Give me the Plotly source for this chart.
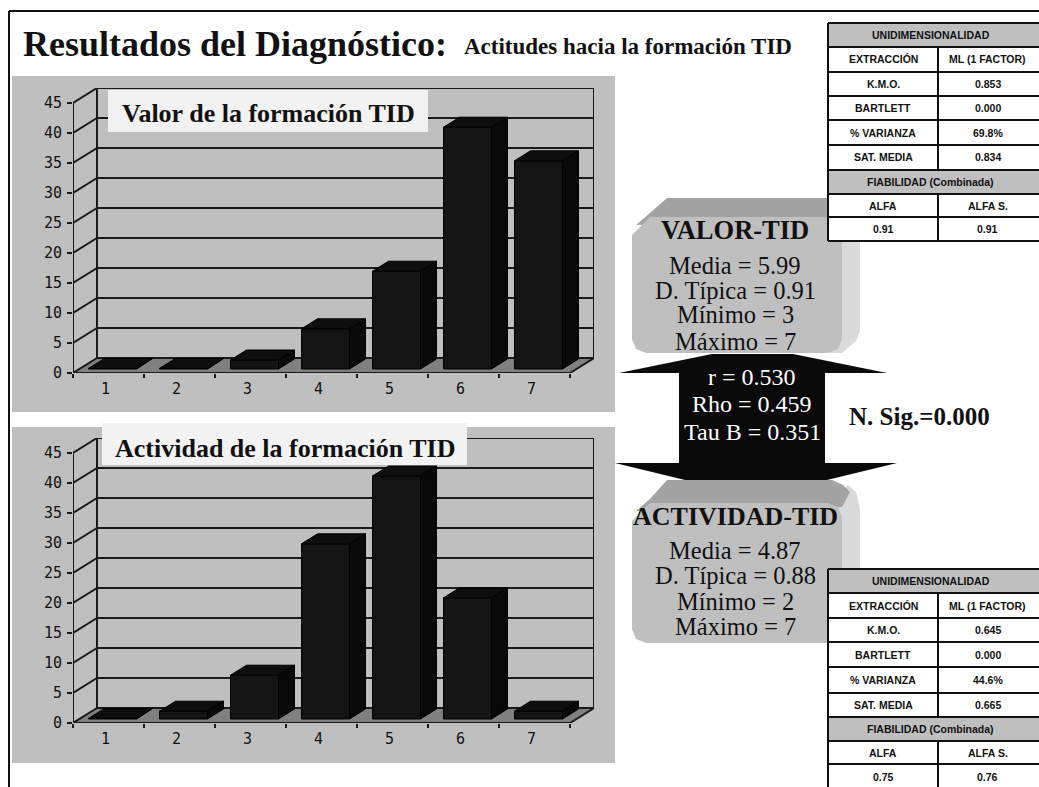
import plotly.graph_objects as go

W, H = 1039, 787

# ---- data ----
categories = [1, 2, 3, 4, 5, 6, 7]
valor_values = [0.1, 0.1, 1.5, 6.7, 16.3, 40.3, 34.7]
actividad_values = [0.1, 1.3, 7.3, 29.2, 40.5, 20.2, 1.3]
y_ticks = [0, 5, 10, 15, 20, 25, 30, 35, 40, 45]

chart_titles = ["Valor de la formación TID", "Actividad de la formación TID"]
main_title = "Resultados del Diagnóstico:"
sub_title = "Actitudes hacia la formación TID"

valor_stats = ["Media = 5.99", "D. Típica = 0.91", "Mínimo = 3", "Máximo = 7"]
actividad_stats = ["Media = 4.87", "D. Típica = 0.88", "Mínimo = 2", "Máximo = 7"]
corr_stats = ["r = 0.530", "Rho = 0.459", "Tau B = 0.351"]
sig_text = "N. Sig.=0.000"

table_left_col = ["K.M.O.", "BARTLETT", "% VARIANZA", "SAT. MEDIA"]
table1_right = ["0.853", "0.000", "69.8%", "0.834"]
table2_right = ["0.645", "0.000", "44.6%", "0.665"]
table1_alpha = ["0.91", "0.91"]
table2_alpha = ["0.75", "0.76"]

# ---- geometry helpers ----
def fx(p):
    return p / W

def fy(p):
    return 1 - p / H

CAT_PX, VAL_PX = 71.0, 6.0
DEPTH_X, DEPTH_Y = 24 / CAT_PX, 15 / VAL_PX
BAR_W = 48 / CAT_PX
BAR_OFF_X, BAR_OFF_Y = 4 / CAT_PX, 4 / VAL_PX
BAR_DX, BAR_DY = 16 / CAT_PX, 10 / VAL_PX
PANEL = "#bfbfbf"
INK = "#1a1a1a"

shapes, annotations = [], []

def rect(x0, y0, x1, y1, fill, line=None, lw=0):
    shapes.append(dict(type="rect", xref="paper", yref="paper", x0=fx(x0), x1=fx(x1), y0=fy(y0), y1=fy(y1),
                       fillcolor=fill, line=dict(color=line or fill, width=lw), layer="below"))

def line(x0, y0, x1, y1, color="#111111", lw=2):
    shapes.append(dict(type="line", xref="paper", yref="paper", x0=fx(x0), x1=fx(x1), y0=fy(y0), y1=fy(y1),
                       line=dict(color=color, width=lw), layer="below"))

def poly(points, fill, layer="below"):
    d = "M " + " L ".join(f"{fx(x):.5f},{fy(y):.5f}" for x, y in points) + " Z"
    shapes.append(dict(type="path", xref="paper", yref="paper", path=d, fillcolor=fill, line=dict(width=0), layer=layer))

def label(x, y, text, size, color="#111111", family="Liberation Serif", bold=False, anchor="center"):
    annotations.append(dict(xref="paper", yref="paper", x=fx(x), y=fy(y), text=f"<b>{text}</b>" if bold else text,
                            showarrow=False, xanchor=anchor, yanchor="middle",
                            font=dict(size=size, color=color, family=family)))

# page frame and panels
line(9, 11, W, 11)
line(9, 11, 9, H)
rect(12, 76, 615, 412, PANEL)
rect(12, 427, 615, 763, PANEL)

# 3D rounded boxes
def box3d(top, front_top, bottom):
    poly([(835, front_top - 6), (848, top + 5), (856, top + 12), (860, front_top + 6), (860, bottom - 22),
          (856, bottom - 12), (842, bottom), (830, bottom)], "#dadada")
    poly([(636, front_top + 8), (650, front_top - 4), (667, top), (832, top), (843, top + 5), (850, top + 12),
          (842, front_top + 4)], "#a3a3a3")
    poly([(650, front_top), (828, front_top), (838, front_top + 4), (842, front_top + 14), (842, bottom - 14),
          (838, bottom - 4), (828, bottom), (646, bottom), (636, bottom - 4), (632, bottom - 14),
          (632, front_top + 18)], PANEL)

box3d(198, 217, 353)
box3d(480, 503, 643)

# double arrow
poly([(679, 373), (619, 373), (712, 354), (793, 354), (887, 373), (825, 373),
      (825, 463), (897, 463), (827, 480), (685, 480), (615, 463), (679, 463)], "#0a0a0a")

# tables
t1 = [23, 47, 72, 96, 120, 145, 170, 194, 217, 241]
t2 = [569, 593, 618, 642, 667, 693, 717, 741, 764, 790]

def full_table(ys, right_vals, alpha_vals):
    xl, xm, xr = 828, 938, W
    rect(xl, ys[0], xr, ys[-1], "#ffffff")
    rect(xl, ys[0], xr, ys[1], PANEL)
    rect(xl, ys[6], xr, ys[7], PANEL)
    for y in ys:
        line(xl, y, xr, y)
    line(xl, ys[0], xl, ys[-1])
    line(xm, ys[1], xm, ys[6])
    line(xm, ys[7], xm, ys[-1])
    cl, cr = (xl + xm) / 2, (xm + xr) / 2 - 1
    mid = lambda i: (ys[i] + ys[i + 1]) / 2
    f = dict(size=10.5, family="Liberation Sans", bold=True)
    label((xl + xr) / 2 - 3, mid(0), "UNIDIMENSIONALIDAD", **f)
    label(cl, mid(1), "EXTRACCIÓN", **f)
    label(cr, mid(1), "ML (1 FACTOR)", **f)
    for i, (a, b) in enumerate(zip(table_left_col, right_vals)):
        label(cl, mid(2 + i), a, **f)
        label(cr, mid(2 + i), b, **f)
    label((xl + xr) / 2 - 3, mid(6), "FIABILIDAD (Combinada)", **f)
    label(cl, mid(7), "ALFA", **f)
    label(cr, mid(7), "ALFA S.", **f)
    label(cl, mid(8), alpha_vals[0], **f)
    label(cr, mid(8), alpha_vals[1], **f)

full_table(t1, table1_right, table1_alpha)
full_table(t2, table2_right, table2_alpha)

# texts
label(21, 44, main_title, 36, bold=True, anchor="left")
label(462, 46, sub_title, 23, bold=True, anchor="left")
label(735, 230, "VALOR-TID", 26.5, bold=True)
for y, t in zip([265, 290, 315, 341], valor_stats):
    label(735, y, t, 24.5)
label(735, 516, "ACTIVIDAD-TID", 26, bold=True)
for y, t in zip([550, 575, 601, 626], actividad_stats):
    label(735, y, t, 24.5)
for y, t in zip([377, 404, 432], corr_stats):
    label(752, y, t, 24, color="#ffffff")
label(847, 416, sig_text, 25, bold=True, anchor="left")

# ---- charts ----
fig = go.Figure()
x0_axis = 0.5
x1_axis = 7.5
y_top = 45

def add_chart(values, xa, ya, name):
    xref, yref = xa, ya
    floor = f"M {x0_axis},0 L {x1_axis},0 L {x1_axis + DEPTH_X},{DEPTH_Y} L {x0_axis + DEPTH_X},{DEPTH_Y} Z"
    shapes.append(dict(type="path", xref=xref, yref=yref, path=floor, fillcolor="#808080", line=dict(width=0), layer="below"))
    ln = dict(color=INK, width=2)
    def seg(a, b, c, d):
        shapes.append(dict(type="line", xref=xref, yref=yref, x0=a, y0=b, x1=c, y1=d, line=ln, layer="below"))
    for v in y_ticks:
        seg(x0_axis + DEPTH_X, v + DEPTH_Y, x1_axis + DEPTH_X, v + DEPTH_Y)
        seg(x0_axis, v, x0_axis + DEPTH_X, v + DEPTH_Y)
    seg(x0_axis, 0, x0_axis, y_top)
    seg(x0_axis + DEPTH_X, DEPTH_Y, x0_axis + DEPTH_X, y_top + DEPTH_Y)
    seg(x1_axis + DEPTH_X, DEPTH_Y, x1_axis + DEPTH_X, y_top + DEPTH_Y)
    seg(x0_axis, 0, x1_axis, 0)
    seg(x1_axis, 0, x1_axis + DEPTH_X, DEPTH_Y)

    fig.add_trace(go.Bar(x=categories, y=values, base=BAR_OFF_Y, width=BAR_W,
                         offset=-BAR_W / 2 + BAR_OFF_X, xaxis=xa, yaxis=ya, name=name,
                         marker=dict(color="#141414", line=dict(color="#000000", width=1))))
    top_x, top_y, side_x, side_y = [], [], [], []
    for c, v in zip(categories, values):
        xl = c + BAR_OFF_X - BAR_W / 2
        xr = xl + BAR_W
        t = v + BAR_OFF_Y
        b = BAR_OFF_Y
        top_x += [xl, xr, xr + BAR_DX, xl + BAR_DX, xl, None]
        top_y += [t, t, t + BAR_DY, t + BAR_DY, t, None]
        side_x += [xr, xr + BAR_DX, xr + BAR_DX, xr, xr, None]
        side_y += [b, b + BAR_DY, t + BAR_DY, t, b, None]
    for px_, py_, col in ((top_x, top_y, "#0e0e0e"), (side_x, side_y, "#090909")):
        fig.add_trace(go.Scatter(x=px_, y=py_, xaxis=xa, yaxis=ya, mode="lines", fill="toself", fillcolor=col,
                                 line=dict(color="#000000", width=1), hoverinfo="skip", showlegend=False))

add_chart(valor_values, "x", "y", "Valor")
add_chart(actividad_values, "x2", "y2", "Actividad")

def plate(x0, y0, x1, y1):
    shapes.append(dict(type="rect", xref="paper", yref="paper", x0=fx(x0), x1=fx(x1), y0=fy(y0), y1=fy(y1),
                       fillcolor="#f2f2f2", line=dict(width=0), layer="above"))

plate(108, 90, 428, 132)
plate(102, 423, 467, 465)
label(120, 113, chart_titles[0], 26, bold=True, anchor="left")
label(113, 448, chart_titles[1], 26, bold=True, anchor="left")

tick_font = dict(family="DejaVu Sans Mono", size=15, color="#111111")
def xaxis(anchor):
    return dict(domain=[fx(73), fx(73 + CAT_PX * (7 + DEPTH_X))], range=[x0_axis, x1_axis + DEPTH_X], anchor=anchor,
                automargin=False, tickmode="array", tickvals=categories, ticktext=[str(c) for c in categories], ticks="",
                showgrid=False, zeroline=False, showline=False, tickfont=tick_font, ticklabelshift=-3,
                ticklabelstandoff=5,
                minor=dict(tickmode="array", tickvals=[c - 0.5 for c in categories] + [7.5], ticks="outside",
                           ticklen=4, tickwidth=2, tickcolor=INK, showgrid=False))

def yaxis(anchor, bottom):
    return dict(domain=[fy(bottom), fy(bottom - VAL_PX * (y_top + DEPTH_Y))], range=[0, y_top + DEPTH_Y], anchor=anchor,
                automargin=False, tickmode="array", tickvals=y_ticks, ticks="outside", ticklen=5, tickwidth=2, tickcolor=INK,
                showgrid=False, zeroline=False, showline=False, tickfont=tick_font, ticklabelstandoff=2)

fig.update_layout(
    width=W, height=H, autosize=False, margin=dict(l=0, r=0, t=0, b=0, pad=0, autoexpand=False), paper_bgcolor="#ffffff",
    plot_bgcolor="rgba(0,0,0,0)", showlegend=False, barmode="overlay",
    shapes=shapes, annotations=annotations,
    xaxis=xaxis("y"), yaxis=yaxis("x", 373), xaxis2=xaxis("y2"), yaxis2=yaxis("x2", 723),
)
fig.write_html(
    "out.html",
    post_script="document.body.style.margin='0';document.body.style.overflow='hidden';",
    config={"displayModeBar": False},
)
